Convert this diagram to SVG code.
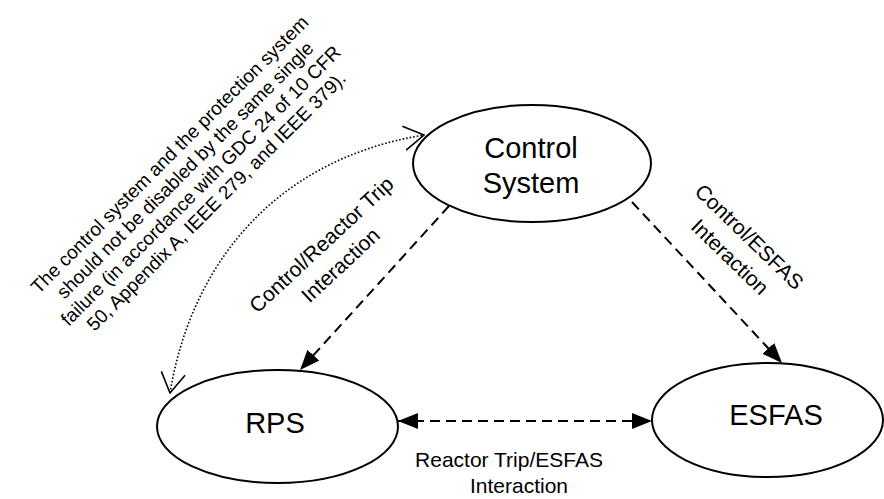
<svg xmlns="http://www.w3.org/2000/svg" width="884" height="499" viewBox="0 0 884 499">
<defs>
<style>
.node{fill:#fff;stroke:#000;stroke-width:2}
.nt{font-family:"Liberation Sans",Arial,sans-serif;font-size:29px;fill:#000;text-anchor:middle}
.lbl{font-family:"Liberation Sans",Arial,sans-serif;font-size:21px;fill:#000;text-anchor:middle}
.note{font-family:"Liberation Sans",Arial,sans-serif;font-size:19px;fill:#000;text-anchor:middle}
.dash{fill:none;stroke:#000;stroke-width:2;stroke-dasharray:10 6}
.dot{fill:none;stroke:#000;stroke-width:1.6;stroke-dasharray:1.6 2}
</style>
<marker id="tri" viewBox="0 0 20 16" refX="20" refY="8" markerWidth="20" markerHeight="16" markerUnits="userSpaceOnUse" orient="auto-start-reverse">
<path d="M0,0 L20,8 L0,16 z" fill="#000"/>
</marker>
<marker id="open" viewBox="0 0 22 26" refX="21" refY="13" markerWidth="22" markerHeight="26" markerUnits="userSpaceOnUse" orient="auto-start-reverse">
<path d="M1,1 L21,13 L1,25" fill="none" stroke="#000" stroke-width="1.6"/>
</marker>
</defs>

<g id="connectors">
<line class="dash" x1="449" y1="206" x2="300" y2="370" marker-end="url(#tri)"/>
<line class="dash" x1="632" y1="202" x2="782" y2="363" marker-end="url(#tri)"/>
<line class="dash" x1="398" y1="421" x2="652" y2="421" marker-start="url(#tri)" marker-end="url(#tri)"/>
<path class="dot" d="M170,393 C190,270 270,160 424,135" marker-start="url(#open)" marker-end="url(#open)"/>
</g>

<g id="control-system">
<ellipse class="node" cx="532" cy="163.5" rx="119" ry="58.5"/>
<text class="nt" x="531" y="158">Control</text>
<text class="nt" x="531" y="193">System</text>
</g>

<g id="rps">
<ellipse class="node" cx="277.5" cy="426.5" rx="120.5" ry="56.5"/>
<text class="nt" x="275" y="433">RPS</text>
</g>

<g id="esfas">
<ellipse class="node" cx="767.5" cy="420" rx="115.5" ry="57"/>
<text class="nt" x="776" y="425">ESFAS</text>
</g>

<g id="labels">
<g transform="translate(331,255) rotate(-43)">
<text class="lbl" x="0" y="-7">Control/Reactor Trip</text>
<text class="lbl" x="0" y="21">Interaction</text>
</g>
<g transform="translate(739.5,247) rotate(44)">
<text class="lbl" x="0" y="-7">Control/ESFAS</text>
<text class="lbl" x="0" y="21">Interaction</text>
</g>
<text class="lbl" x="509" y="467">Reactor Trip/ESFAS</text>
<text class="lbl" x="519" y="493">Interaction</text>
<g transform="translate(197.5,182.5) rotate(-45)">
<text class="note" x="0" y="-33">The control system and the protection system</text>
<text class="note" x="0" y="-11">should not be disabled by the same single</text>
<text class="note" x="0" y="11">failure (in accordance with GDC 24 of 10 CFR</text>
<text class="note" x="0" y="33">50, Appendix A, IEEE 279, and IEEE 379).</text>
</g>
</g>
</svg>
